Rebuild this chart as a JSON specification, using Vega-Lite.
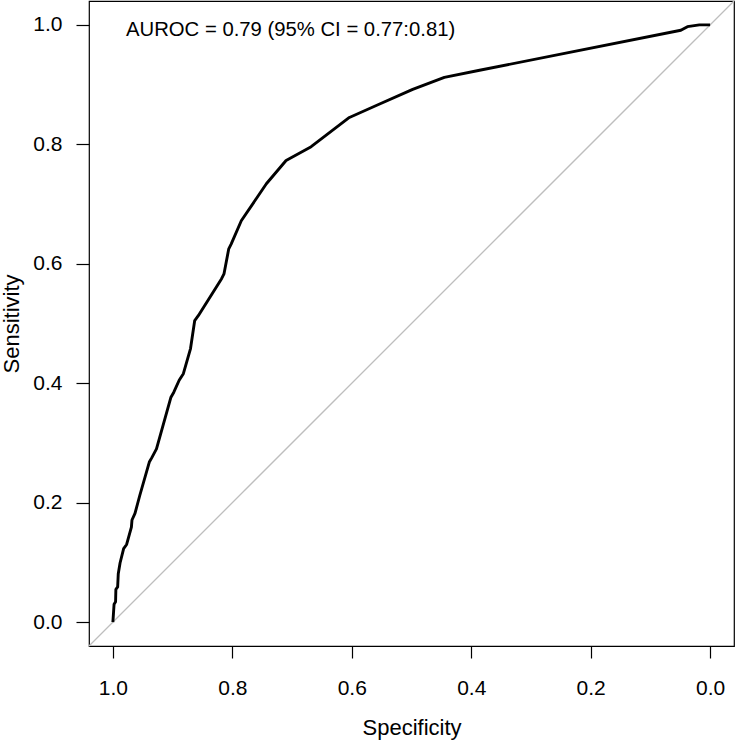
{
  "$schema": "https://vega.github.io/schema/vega-lite/v6.json",
  "width": 645,
  "height": 645,
  "autosize": {"type": "none"},
  "padding": {"left": 89, "top": 1, "right": 1, "bottom": 94},
  "background": "white",
  "config": {"view": {"stroke": "black", "strokeWidth": 1.2}, "font": "Liberation Sans"},
  "layer": [
    {
      "data": {"values": [{"spec": 1.04, "sens": -0.04}, {"spec": -0.04, "sens": 1.04}]},
      "mark": {"type": "line", "color": "#bebebe", "strokeWidth": 1.3},
      "encoding": {
        "x": {
          "field": "spec", "type": "quantitative",
          "scale": {"domain": [-0.04, 1.04], "reverse": true, "nice": false, "zero": false},
          "axis": {
            "values": [0, 0.2, 0.4, 0.6, 0.8, 1.0], "format": ".1f", "title": "Specificity",
            "domain": false, "grid": false, "ticks": true, "tickSize": 12, "tickColor": "black", "tickWidth": 1.2,
            "labelFontSize": 21, "labelColor": "black", "labelPadding": 19.4, "labelFont": "Liberation Sans",
            "labelFlush": false, "labelOverlap": false,
            "titleFontSize": 22, "titleFontWeight": "normal", "titleColor": "black", "titleFont": "Liberation Sans",
            "titleX": 322.5, "titleY": 88.5, "titleBaseline": "alphabetic", "titleAlign": "center"
          }
        },
        "y": {
          "field": "sens", "type": "quantitative",
          "scale": {"domain": [-0.04, 1.04], "nice": false, "zero": false},
          "axis": {
            "values": [0, 0.2, 0.4, 0.6, 0.8, 1.0], "format": ".1f", "title": "Sensitivity",
            "domain": false, "grid": false, "ticks": true, "tickSize": 13, "tickColor": "black", "tickWidth": 1.2,
            "labelFontSize": 21, "labelColor": "black", "labelPadding": 14, "labelFont": "Liberation Sans",
            "labelFlush": false, "labelOverlap": false, "labelBaseline": "middle",
            "titleFontSize": 22, "titleFontWeight": "normal", "titleColor": "black", "titleFont": "Liberation Sans",
            "titleX": -71, "titleY": 322.5, "titleAngle": -90, "titleBaseline": "alphabetic", "titleAlign": "center"
          }
        }
      }
    },
    {
      "data": {"values": [
        {"i": 1, "spec": 1.0, "sens": 0.0},
        {"i": 2, "spec": 0.999, "sens": 0.015},
        {"i": 3, "spec": 0.998, "sens": 0.030},
        {"i": 4, "spec": 0.9955, "sens": 0.034},
        {"i": 5, "spec": 0.995, "sens": 0.055},
        {"i": 6, "spec": 0.992, "sens": 0.059},
        {"i": 7, "spec": 0.991, "sens": 0.081},
        {"i": 8, "spec": 0.988, "sens": 0.099},
        {"i": 9, "spec": 0.982, "sens": 0.123},
        {"i": 10, "spec": 0.977, "sens": 0.130},
        {"i": 11, "spec": 0.969, "sens": 0.159},
        {"i": 12, "spec": 0.968, "sens": 0.171},
        {"i": 13, "spec": 0.963, "sens": 0.182},
        {"i": 14, "spec": 0.955, "sens": 0.212},
        {"i": 15, "spec": 0.939, "sens": 0.268},
        {"i": 16, "spec": 0.935, "sens": 0.275},
        {"i": 17, "spec": 0.927, "sens": 0.290},
        {"i": 18, "spec": 0.903, "sens": 0.376},
        {"i": 19, "spec": 0.898, "sens": 0.385},
        {"i": 20, "spec": 0.889, "sens": 0.405},
        {"i": 21, "spec": 0.882, "sens": 0.416},
        {"i": 22, "spec": 0.870, "sens": 0.458},
        {"i": 23, "spec": 0.863, "sens": 0.505},
        {"i": 24, "spec": 0.857, "sens": 0.513},
        {"i": 25, "spec": 0.818, "sens": 0.575},
        {"i": 26, "spec": 0.814, "sens": 0.583},
        {"i": 27, "spec": 0.806, "sens": 0.625},
        {"i": 28, "spec": 0.802, "sens": 0.633},
        {"i": 29, "spec": 0.785, "sens": 0.672},
        {"i": 30, "spec": 0.743, "sens": 0.734},
        {"i": 31, "spec": 0.715, "sens": 0.767},
        {"i": 32, "spec": 0.710, "sens": 0.773},
        {"i": 33, "spec": 0.668, "sens": 0.796},
        {"i": 34, "spec": 0.604, "sens": 0.845},
        {"i": 35, "spec": 0.559, "sens": 0.865},
        {"i": 36, "spec": 0.498, "sens": 0.892},
        {"i": 37, "spec": 0.445, "sens": 0.912},
        {"i": 38, "spec": 0.386, "sens": 0.924},
        {"i": 39, "spec": 0.049, "sens": 0.991},
        {"i": 40, "spec": 0.038, "sens": 0.997},
        {"i": 41, "spec": 0.018, "sens": 1.0},
        {"i": 42, "spec": 0.0, "sens": 1.0}
      ]},
      "mark": {"type": "line", "color": "black", "strokeWidth": 2.9, "strokeJoin": "round"},
      "encoding": {
        "order": {"field": "i", "type": "quantitative"},
        "x": {"field": "spec", "type": "quantitative", "title": "Specificity"},
        "y": {"field": "sens", "type": "quantitative", "title": "Sensitivity"}
      }
    },
    {
      "data": {"values": [{"label": "AUROC = 0.79 (95% CI = 0.77:0.81)"}]},
      "mark": {"type": "text", "align": "left", "baseline": "alphabetic", "fontSize": 20.3, "font": "Liberation Sans", "color": "black"},
      "encoding": {
        "x": {"datum": 0.978, "type": "quantitative", "title": "Specificity"},
        "y": {"datum": 0.981, "type": "quantitative", "title": "Sensitivity"},
        "text": {"field": "label"}
      }
    }
  ]
}
